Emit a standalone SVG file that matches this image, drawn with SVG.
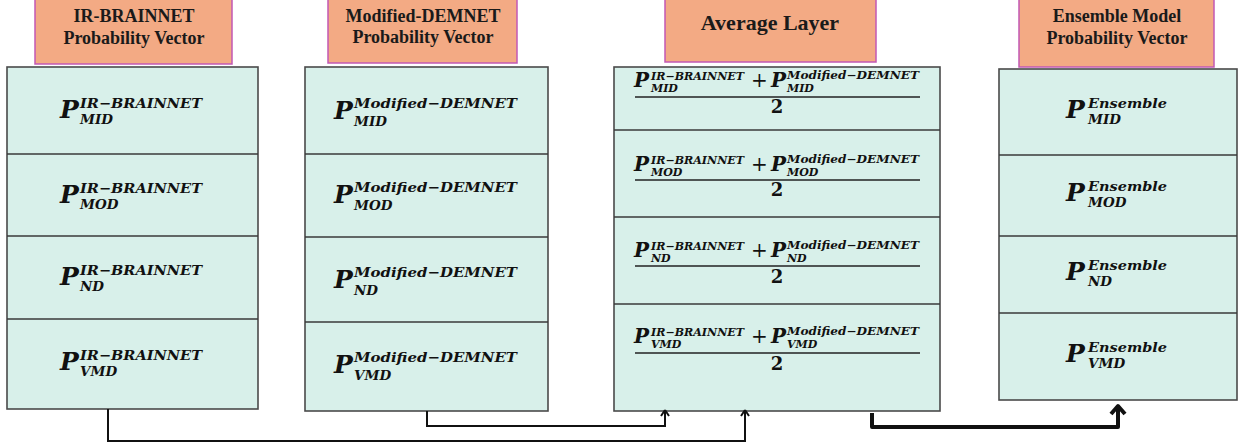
<svg xmlns="http://www.w3.org/2000/svg" width="1243" height="444" viewBox="0 0 1243 444">
  <style>
    .hdr { fill: #f3aa84; stroke: #c258b4; stroke-width: 1.5; }
    .col { fill: #d8f0ea; stroke: #4a4a4a; stroke-width: 1.6; }
    .div { stroke: #3a3a3a; stroke-width: 1.6; }
    .ht { font-family: "Liberation Serif", serif; font-weight: bold; font-size: 18px; fill: #1a1a1a; text-anchor: middle; }
    .big { font-size: 22px; }
    .P { font-family: "DejaVu Serif", serif; font-weight: bold; font-style: italic; font-size: 25px; fill: #111; }
    .s { font-family: "DejaVu Serif", serif; font-weight: bold; font-style: italic; font-size: 13.5px; fill: #111; }
    .Pf { font-family: "DejaVu Serif", serif; font-weight: bold; font-style: italic; font-size: 20px; fill: #111; }
    .sf { font-family: "DejaVu Serif", serif; font-weight: bold; font-style: italic; font-size: 11px; fill: #111; }
    .op { font-family: "DejaVu Serif", serif; font-size: 20px; fill: #111; }
    .two { font-family: "DejaVu Serif", serif; font-weight: bold; font-size: 18px; fill: #111; text-anchor: middle; }
    .fl { stroke: #222; stroke-width: 1.3; }
    .wire { fill: none; stroke: #111; stroke-width: 2; }
    .wire-bold { fill: none; stroke: #111; stroke-width: 4; stroke-linejoin: round; }
  </style>

  <!-- IR-BRAINNET probability vector -->
  <g id="hdr-irbrainnet">
    <rect class="hdr" x="35" y="-1" width="197" height="65"/>
    <text class="ht" x="134" y="22">IR-BRAINNET</text>
    <text class="ht" x="134" y="44">Probability Vector</text>
  </g>
  <g id="col-irbrainnet">
    <rect class="col" x="7" y="67" width="251" height="342"/>
    <line class="div" x1="7" y1="154" x2="258" y2="154"/>
    <line class="div" x1="7" y1="236" x2="258" y2="236"/>
    <line class="div" x1="7" y1="319" x2="258" y2="319"/>
    <text class="P" x="60" y="118">P</text>
    <text class="s" x="80" y="108" textLength="122" lengthAdjust="spacingAndGlyphs">IR−BRAINNET</text>
    <text class="s" x="80" y="124">MID</text>
    <text class="P" x="60" y="203">P</text>
    <text class="s" x="80" y="193" textLength="122" lengthAdjust="spacingAndGlyphs">IR−BRAINNET</text>
    <text class="s" x="80" y="209">MOD</text>
    <text class="P" x="60" y="285">P</text>
    <text class="s" x="80" y="275" textLength="122" lengthAdjust="spacingAndGlyphs">IR−BRAINNET</text>
    <text class="s" x="80" y="291">ND</text>
    <text class="P" x="60" y="370">P</text>
    <text class="s" x="80" y="360" textLength="122" lengthAdjust="spacingAndGlyphs">IR−BRAINNET</text>
    <text class="s" x="80" y="376">VMD</text>
  </g>

  <!-- Modified-DEMNET probability vector -->
  <g id="hdr-demnet">
    <rect class="hdr" x="328" y="-1" width="189" height="64"/>
    <text class="ht" x="423" y="22">Modified-DEMNET</text>
    <text class="ht" x="423" y="43">Probability Vector</text>
  </g>
  <g id="col-demnet">
    <rect class="col" x="305" y="67" width="243" height="344"/>
    <line class="div" x1="305" y1="154" x2="548" y2="154"/>
    <line class="div" x1="305" y1="237" x2="548" y2="237"/>
    <line class="div" x1="305" y1="322" x2="548" y2="322"/>
    <text class="P" x="334" y="119">P</text>
    <text class="s" x="354" y="108" textLength="163" lengthAdjust="spacingAndGlyphs">Modified−DEMNET</text>
    <text class="s" x="354" y="126">MID</text>
    <text class="P" x="334" y="203">P</text>
    <text class="s" x="354" y="192" textLength="163" lengthAdjust="spacingAndGlyphs">Modified−DEMNET</text>
    <text class="s" x="354" y="210">MOD</text>
    <text class="P" x="334" y="288">P</text>
    <text class="s" x="354" y="277" textLength="163" lengthAdjust="spacingAndGlyphs">Modified−DEMNET</text>
    <text class="s" x="354" y="295">ND</text>
    <text class="P" x="334" y="373">P</text>
    <text class="s" x="354" y="362" textLength="163" lengthAdjust="spacingAndGlyphs">Modified−DEMNET</text>
    <text class="s" x="354" y="380">VMD</text>
  </g>

  <!-- Average layer -->
  <g id="hdr-average">
    <rect class="hdr" x="665" y="-1" width="211" height="63"/>
    <text class="ht big" x="770" y="30">Average Layer</text>
  </g>
  <g id="col-average">
    <rect class="col" x="614" y="67" width="326" height="344"/>
    <line class="div" x1="614" y1="130" x2="940" y2="130"/>
    <line class="div" x1="614" y1="217" x2="940" y2="217"/>
    <line class="div" x1="614" y1="304" x2="940" y2="304"/>
    <!-- MID -->
    <text class="Pf" x="634" y="87">P</text>
    <text class="sf" x="651" y="80" textLength="93" lengthAdjust="spacingAndGlyphs">IR−BRAINNET</text>
    <text class="sf" x="651" y="92">MID</text>
    <text class="op" x="751" y="87">+</text>
    <text class="Pf" x="771" y="87">P</text>
    <text class="sf" x="787" y="79" textLength="132" lengthAdjust="spacingAndGlyphs">Modified−DEMNET</text>
    <text class="sf" x="787" y="92">MID</text>
    <line class="fl" x1="635" y1="97" x2="920" y2="97"/>
    <text class="two" x="777" y="113">2</text>
    <!-- MOD -->
    <text class="Pf" x="634" y="171">P</text>
    <text class="sf" x="651" y="164" textLength="93" lengthAdjust="spacingAndGlyphs">IR−BRAINNET</text>
    <text class="sf" x="651" y="176">MOD</text>
    <text class="op" x="751" y="171">+</text>
    <text class="Pf" x="771" y="171">P</text>
    <text class="sf" x="787" y="163" textLength="132" lengthAdjust="spacingAndGlyphs">Modified−DEMNET</text>
    <text class="sf" x="787" y="176">MOD</text>
    <line class="fl" x1="635" y1="180" x2="920" y2="180"/>
    <text class="two" x="777" y="196">2</text>
    <!-- ND -->
    <text class="Pf" x="634" y="257">P</text>
    <text class="sf" x="651" y="250" textLength="93" lengthAdjust="spacingAndGlyphs">IR−BRAINNET</text>
    <text class="sf" x="651" y="262">ND</text>
    <text class="op" x="751" y="257">+</text>
    <text class="Pf" x="771" y="257">P</text>
    <text class="sf" x="787" y="249" textLength="132" lengthAdjust="spacingAndGlyphs">Modified−DEMNET</text>
    <text class="sf" x="787" y="262">ND</text>
    <line class="fl" x1="635" y1="266" x2="920" y2="266"/>
    <text class="two" x="777" y="283">2</text>
    <!-- VMD -->
    <text class="Pf" x="634" y="343">P</text>
    <text class="sf" x="651" y="336" textLength="93" lengthAdjust="spacingAndGlyphs">IR−BRAINNET</text>
    <text class="sf" x="651" y="348">VMD</text>
    <text class="op" x="751" y="343">+</text>
    <text class="Pf" x="771" y="343">P</text>
    <text class="sf" x="787" y="335" textLength="132" lengthAdjust="spacingAndGlyphs">Modified−DEMNET</text>
    <text class="sf" x="787" y="348">VMD</text>
    <line class="fl" x1="635" y1="353" x2="920" y2="353"/>
    <text class="two" x="777" y="370">2</text>
  </g>

  <!-- Ensemble model probability vector -->
  <g id="hdr-ensemble">
    <rect class="hdr" x="1019" y="-1" width="195" height="68"/>
    <text class="ht" x="1117" y="22">Ensemble Model</text>
    <text class="ht" x="1117" y="44">Probability Vector</text>
  </g>
  <g id="col-ensemble">
    <rect class="col" x="999" y="69" width="238" height="331"/>
    <line class="div" x1="999" y1="155" x2="1237" y2="155"/>
    <line class="div" x1="999" y1="236" x2="1237" y2="236"/>
    <line class="div" x1="999" y1="313" x2="1237" y2="313"/>
    <text class="P" x="1066" y="118">P</text>
    <text class="s" x="1088" y="108" textLength="79" lengthAdjust="spacingAndGlyphs">Ensemble</text>
    <text class="s" x="1088" y="124">MID</text>
    <text class="P" x="1066" y="201">P</text>
    <text class="s" x="1088" y="191" textLength="79" lengthAdjust="spacingAndGlyphs">Ensemble</text>
    <text class="s" x="1088" y="207">MOD</text>
    <text class="P" x="1066" y="280">P</text>
    <text class="s" x="1088" y="270" textLength="79" lengthAdjust="spacingAndGlyphs">Ensemble</text>
    <text class="s" x="1088" y="286">ND</text>
    <text class="P" x="1066" y="362">P</text>
    <text class="s" x="1088" y="352" textLength="79" lengthAdjust="spacingAndGlyphs">Ensemble</text>
    <text class="s" x="1088" y="368">VMD</text>
  </g>

  <!-- Connectors -->
  <g id="connectors">
    <path class="wire" d="M108 409 V441 H745 V412"/>
    <path class="wire" d="M745 410 l-4 6 M745 410 l4 6"/>
    <path class="wire" d="M427 411 V426 H665 V412"/>
    <path class="wire" d="M665 410 l-4 6 M665 410 l4 6"/>
    <path class="wire-bold" d="M872 413 V427 H1118 V407"/>
    <path class="wire-bold" d="M1111 414 L1118 406 L1125 414"/>
  </g>
</svg>
